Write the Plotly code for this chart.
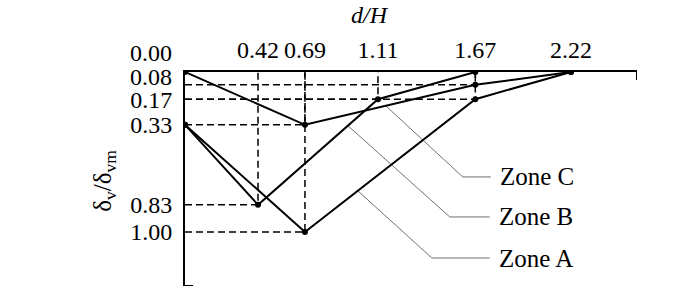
import numpy as np
import plotly.graph_objects as go

# ---- data ----
x_ticks = [0.42, 0.69, 1.11, 1.67, 2.22]
y_ticks = [0.08, 0.17, 0.33, 0.83, 1.00]

zone_a_x = [0.00, 0.69, 1.67, 2.22]
zone_a_y = [0.33, 1.00, 0.17, 0.00]
zone_b_x = [0.00, 0.42, 1.11, 1.67]
zone_b_y = [0.33, 0.83, 0.17, 0.00]
zone_c_x = [0.00, 0.69, 1.67, 2.22]
zone_c_y = [0.00, 0.33, 0.08, 0.00]
zone_names = ["Zone A", "Zone B", "Zone C"]

FONT = "Liberation Serif"
FS = 24
X_MAX = 2.6
Y_MAX = 1.3375

fig = go.Figure()

zones = [(zone_a_x, zone_a_y), (zone_b_x, zone_b_y), (zone_c_x, zone_c_y)]

# dashed guide lines from axes to each data point
seen = set()
for zx, zy in zones:
    for xv, yv in zip(zx, zy):
        if xv > 0 and yv > 0 and (xv, yv) not in seen:
            seen.add((xv, yv))
            fig.add_trace(go.Scatter(x=[0, xv, xv], y=[yv, yv, 0], mode="lines",
                                     line=dict(color="black", width=1.5, dash="7px,4px"),
                                     hoverinfo="skip", showlegend=False))

# leader lines (style placement, in axis units)
leaders = {
    "Zone C": dict(x0=1.155, bend=(1.598, 0.656), end=1.759, src=(zone_c_x, zone_c_y)),
    "Zone B": dict(x0=0.937, bend=(1.523, 0.906), end=1.753, src=(zone_b_x, zone_b_y)),
    "Zone A": dict(x0=0.994, bend=(1.420, 1.1625), end=1.753, src=(zone_a_x, zone_a_y)),
}
for name, L in leaders.items():
    sx, sy = L["src"]
    y0 = float(np.interp(L["x0"], sx, sy))
    bx, by = L["bend"]
    fig.add_trace(go.Scatter(x=[L["x0"], bx, L["end"]], y=[y0, by, by], mode="lines",
                             line=dict(color="#707070", width=1),
                             hoverinfo="skip", showlegend=False))
    fig.add_annotation(x=L["end"], y=by, xref="x", yref="y", text=name, showarrow=False,
                       xanchor="left", yanchor="middle", xshift=7,
                       font=dict(family=FONT, size=FS + 1, color="black"))

# zone lines
for (zx, zy), name in zip(zones, zone_names):
    fig.add_trace(go.Scatter(x=zx, y=zy, mode="lines+markers", name=name,
                             line=dict(color="black", width=2),
                             marker=dict(color="black", size=6),
                             showlegend=False))

# axis end ticks
fig.add_shape(type="line", xref="x", yref="y", x0=X_MAX, x1=X_MAX, y0=0, y1=0.05,
              line=dict(color="black", width=2))
fig.add_shape(type="line", xref="x", yref="y", x0=0, x1=0.046, y0=Y_MAX, y1=Y_MAX,
              line=dict(color="black", width=2))

# origin label and shifted 0.08 label
fig.add_annotation(x=0, y=0, xref="x", yref="y", text="0.00", showarrow=False,
                   xanchor="right", yanchor="middle", xshift=-11, yshift=19,
                   font=dict(family=FONT, size=FS, color="black"))
fig.add_annotation(x=0, y=y_ticks[0], xref="x", yref="y", text=f"{y_ticks[0]:.2f}",
                   showarrow=False, xanchor="right", yanchor="middle", xshift=-11, yshift=8,
                   font=dict(family=FONT, size=FS, color="black"))

# axis titles
fig.add_annotation(x=1.063, y=0, xref="x", yref="y", text="<i>d/H</i>", showarrow=False,
                   xanchor="center", yanchor="middle", yshift=57,
                   font=dict(family=FONT, size=FS, color="black"))
fig.add_annotation(x=0, y=0.68, xref="x", yref="y", text="δ<sub>v</sub>/δ<sub>vm</sub>",
                   showarrow=False, textangle=-90, xanchor="center", yanchor="middle",
                   xshift=-80, font=dict(family=FONT, size=FS + 1, color="black"))

fig.update_layout(
    width=700, height=300,
    margin=dict(l=185, r=63, t=72, b=14),
    paper_bgcolor="white", plot_bgcolor="white",
    showlegend=False,
    font=dict(family=FONT, size=FS, color="black"),
    xaxis=dict(range=[0, X_MAX], side="top", showline=True, linecolor="black", linewidth=2,
               showgrid=False, zeroline=False, tickvals=x_ticks,
               ticktext=[f"{v:.2f}" for v in x_ticks], ticks="", ticklabelstandoff=2,
               tickfont=dict(family=FONT, size=FS, color="black")),
    yaxis=dict(range=[Y_MAX, 0], showline=True, linecolor="black", linewidth=2,
               showgrid=False, zeroline=False, tickvals=y_ticks[1:],
               ticktext=[f"{v:.2f}" for v in y_ticks[1:]], ticks="", ticklabelstandoff=6,
               tickfont=dict(family=FONT, size=FS, color="black")),
)

fig.write_html("out.html")
